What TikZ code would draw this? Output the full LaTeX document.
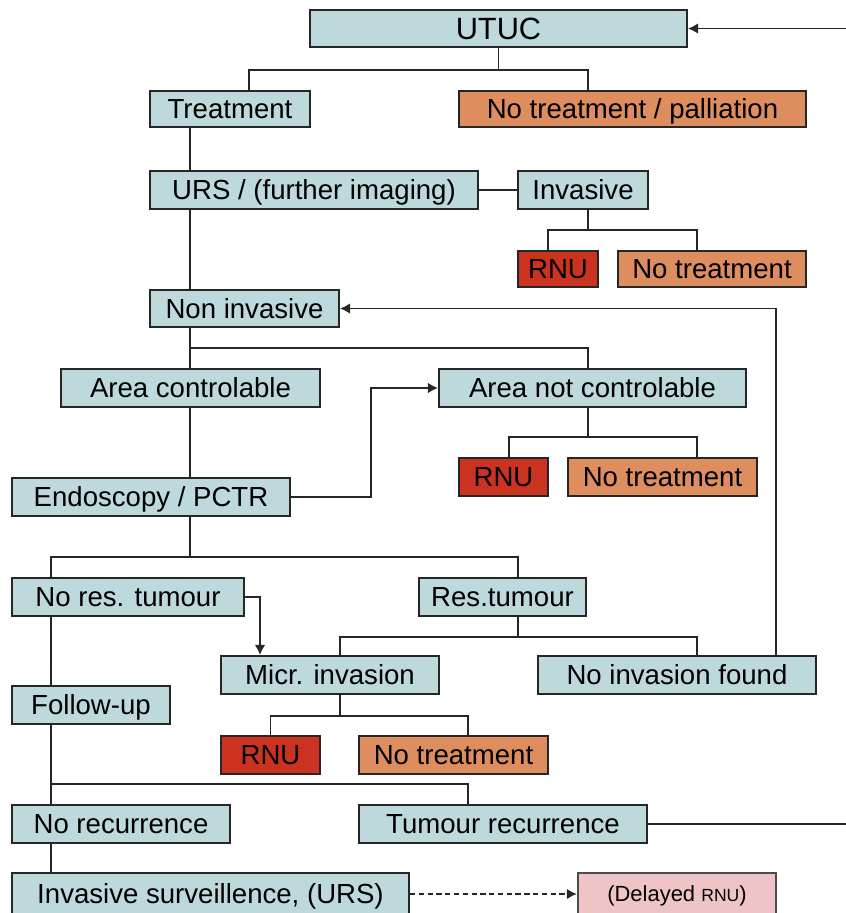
\documentclass[tikz,border=0pt]{standalone}
\usepackage{fontspec}
\setmainfont{Liberation Sans}
\usepackage{tikz}
\usetikzlibrary{arrows.meta}

\definecolor{boxblue}{RGB}{190,217,219}
\definecolor{boxorange}{RGB}{222,142,94}
\definecolor{boxred}{RGB}{204,50,32}
\definecolor{boxpink}{RGB}{238,196,198}

\tikzset{
	box/.style={draw=black!85, line width=1.2pt, fill=boxblue, inner sep=0pt, minimum height=0.76cm,
		text height=11.2pt, text depth=0pt, font=\fontsize{15.7}{18}\selectfont},
	obox/.style={box, fill=boxorange},
	rbox/.style={box, fill=boxred},
	pbox/.style={box, fill=boxpink, draw=black!70, text height=9pt, font=\fontsize{12.5}{15}\selectfont},
	link/.style={line width=0.9pt, black!85},
	arr/.style={link, -{Latex[length=2mm,width=2.1mm]}},
}

\begin{document}
\begin{tikzpicture}

	\useasboundingbox (0,0) rectangle (16.92,-18.26);

	\coordinate (xa) at (3.80,0);
	\coordinate (xb) at (1.02,0);
	\coordinate (loop) at (17.6,0);

	\node[box, minimum width=7.54cm, minimum height=0.74cm, text height=12.5pt, font=\fontsize{17.5}{20}\selectfont] (utuc) at (9.97,-0.57) {UTUC};

	\node[box, minimum width=3.20cm, minimum height=0.72cm] (treat) at (4.60,-2.18) {Treatment};
	\node[obox, minimum width=6.94cm, minimum height=0.72cm] (palli) at (12.65,-2.18) {No treatment / palliation};

	\node[box, minimum width=6.56cm] (urs) at (6.28,-3.80) {URS / (further imaging)};
	\node[box, minimum width=2.60cm] (inv) at (11.66,-3.80) {Invasive};
	\node[rbox, minimum width=1.60cm, minimum height=0.72cm] (rnu1) at (11.16,-5.38) {RNU};
	\node[obox, minimum width=3.76cm, minimum height=0.72cm] (notr1) at (14.24,-5.38) {No treatment};

	\node[box, minimum width=3.78cm, minimum height=0.74cm] (noninv) at (4.89,-6.17) {Non invasive};
	\node[box, minimum width=5.18cm] (actrl) at (3.81,-7.76) {Area controlable};
	\node[box, minimum width=6.14cm] (anctrl) at (11.85,-7.76) {Area not controlable};
	\node[rbox, minimum width=1.78cm] (rnu2) at (10.07,-9.54) {RNU};
	\node[obox, minimum width=3.78cm] (notr2) at (13.25,-9.54) {No treatment};
	\node[box, minimum width=5.56cm] (endo) at (3.02,-9.94) {Endoscopy / PCTR};

	\node[box, minimum width=4.64cm] (nores) at (2.56,-11.94) {No res. tumour};
	\node[box, minimum width=3.34cm] (res) at (10.05,-11.94) {Res.tumour};
	\node[box, minimum width=4.36cm] (micr) at (6.60,-13.50) {Micr. invasion};
	\node[box, minimum width=5.56cm] (noinv) at (13.54,-13.50) {No invasion found};
	\node[box, minimum width=3.16cm] (follow) at (1.82,-14.10) {Follow-up};
	\node[rbox, minimum width=1.98cm] (rnu3) at (5.41,-15.10) {RNU};
	\node[obox, minimum width=3.78cm] (notr3) at (9.07,-15.10) {No treatment};

	\node[box, minimum width=4.36cm] (norec) at (2.42,-16.48) {No recurrence};
	\node[box, minimum width=5.76cm] (tumrec) at (10.06,-16.48) {Tumour recurrence};
	\node[box, minimum width=7.94cm, minimum height=0.84cm] (survei) at (4.21,-17.88) {Invasive surveillence, (URS)};
	\node[pbox, minimum width=3.96cm, minimum height=0.84cm] (delayed) at (13.54,-17.88) {(Delayed {\fontsize{10}{12}\selectfont RNU})};

	% UTUC
	\draw[link] (utuc.south) -- ++(0,-0.44) coordinate (f1);
	\draw[link] ([xshift=0.38cm]treat.north) |- (f1) -| ([xshift=-0.89cm]palli.north);

	\draw[link] (treat.south -| xa) -- (urs.north -| xa);
	\draw[link] (urs.south -| xa) -- (noninv.north -| xa);
	\draw[link] (urs.east) -- (inv.west);

	\draw[link] ([xshift=0.1cm]inv.south) -- ++(0,-0.40) coordinate (f2);
	\draw[link] ([xshift=-0.2cm]rnu1.north) |- (f2) -| ([xshift=-0.3cm]notr1.north);

	% non invasive
	\draw[link] (noninv.south -| xa) -- (actrl.north -| xa);
	\draw[link] (noninv.south -| xa) ++(0,-0.40) coordinate (f3) -| ([xshift=-0.09cm]anctrl.north);
	\draw[link] (actrl.south -| xa) -- (endo.north -| xa);
	\draw[arr] (endo.east) -- ++(1.60,0) |- (anctrl.west);

	\draw[link] ([xshift=-0.09cm]anctrl.south) -- ++(0,-0.58) coordinate (f4);
	\draw[link] ([xshift=0.11cm]rnu2.north) |- (f4) -| ([xshift=0.69cm]notr2.north);

	% endoscopy
	\draw[link] (endo.south -| xa) -- ++(0,-0.80) coordinate (f5);
	\draw[link] (nores.north -| xb) |- (f5) -| ([xshift=0.31cm]res.north);
	\draw[arr] (nores.east) -| ([xshift=-1.40cm]micr.north);

	\draw[link] ([xshift=0.31cm]res.south) -- ++(0,-0.40) coordinate (f6);
	\draw[link] ([xshift=0.20cm]micr.north) |- (f6) -| ([xshift=0.40cm]noinv.north);
	\draw[arr] ([xshift=1.98cm]noinv.north) |- (noninv.east);

	\draw[link] ([xshift=0.20cm]micr.south) -- ++(0,-0.42) coordinate (f7);
	\draw[link] (rnu3.north) |- (f7) -| ([xshift=0.29cm]notr3.north);

	% follow-up
	\draw[link] (nores.south -| xb) -- (follow.north -| xb);
	\draw[link] (follow.south -| xb) -- (norec.north -| xb);
	\draw[link] (follow.south -| xb) ++(0,-1.18) coordinate (f8) -| ([xshift=-0.70cm]tumrec.north);
	\draw[link] (norec.south -| xb) -- (survei.north -| xb);
	\draw[arr, line width=1.1pt, dash pattern=on 3pt off 2pt] (survei.east) -- (delayed.west);

	\draw[arr] (tumrec.east) -- (tumrec.east -| loop) |- (utuc.east);

\end{tikzpicture}
\end{document}
